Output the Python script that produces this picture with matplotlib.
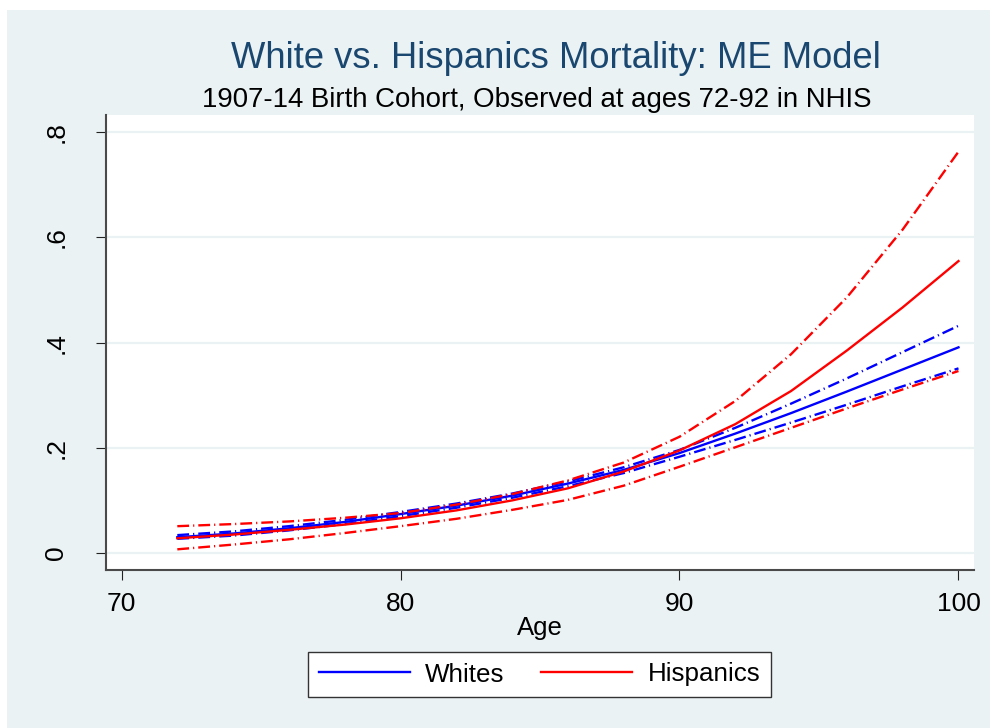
import matplotlib
matplotlib.use("Agg")
import matplotlib.pyplot as plt
from matplotlib.lines import Line2D
from matplotlib.patches import Rectangle

plt.rcParams['font.family'] = ['Liberation Sans', 'DejaVu Sans']

# Predicted mortality by age, with confidence bounds
ages = [72, 74, 76, 78, 80, 82, 84, 86, 88, 90, 92, 94, 96, 98, 100]

whites = [0.030, 0.037, 0.047, 0.059, 0.074, 0.090, 0.109, 0.132, 0.158,
          0.190, 0.227, 0.266, 0.307, 0.349, 0.391]
whites_hi = [0.034, 0.041, 0.051, 0.063, 0.078, 0.094, 0.113, 0.136, 0.163,
             0.196, 0.238, 0.284, 0.332, 0.382, 0.432]
whites_lo = [0.027, 0.033, 0.043, 0.055, 0.070, 0.086, 0.105, 0.127, 0.152,
             0.183, 0.215, 0.248, 0.282, 0.317, 0.351]

hisp = [0.028, 0.035, 0.044, 0.054, 0.066, 0.081, 0.100, 0.123, 0.155,
        0.195, 0.245, 0.308, 0.385, 0.467, 0.555]
hisp_hi = [0.051, 0.055, 0.060, 0.067, 0.076, 0.092, 0.112, 0.138, 0.172,
           0.221, 0.289, 0.378, 0.486, 0.615, 0.763]
hisp_lo = [0.007, 0.016, 0.026, 0.038, 0.051, 0.065, 0.082, 0.101, 0.128,
           0.164, 0.201, 0.238, 0.275, 0.311, 0.346]

xticks = [70, 80, 90, 100]
yticks = [0, 0.2, 0.4, 0.6, 0.8]
yticklabels = ['0', '.2', '.4', '.6', '.8']

BG = '#EAF2F3'
NAVY = '#1A476F'
BLUE = '#0000FF'
RED = '#FF0000'

W, H = 990, 728
fig = plt.figure(figsize=(W / 100, H / 100), dpi=100, facecolor='white')
fig.patches.append(Rectangle((7 / W, 0), 1 - 7 / W, 1 - 10 / H,
                             transform=fig.transFigure, facecolor=BG,
                             edgecolor='none', zorder=-10))

ax = fig.add_axes([106 / W, 1 - 570 / H, (974 - 106) / W, (570 - 115) / H])
ax.set_zorder(2)
ax.set_facecolor('white')
ax.set_xlim(69.444, 100.556)
ax.set_ylim(-0.0323, 0.8327)

for v in yticks:
    ax.axhline(v, color=BG, lw=1.6, zorder=1)

dashdot = (0, (5, 1.7, 0.5, 1.7))
lw = 1.7
ax.plot(ages, whites, color=BLUE, lw=lw, zorder=3)
ax.plot(ages, whites_hi, color=BLUE, lw=lw, ls=dashdot, zorder=3)
ax.plot(ages, whites_lo, color=BLUE, lw=lw, ls=dashdot, zorder=3)
ax.plot(ages, hisp, color=RED, lw=lw, zorder=3)
ax.plot(ages, hisp_hi, color=RED, lw=lw, ls=dashdot, zorder=3)
ax.plot(ages, hisp_lo, color=RED, lw=lw, ls=dashdot, zorder=3)

for s in ['top', 'right']:
    ax.spines[s].set_visible(False)
for s in ['left', 'bottom']:
    ax.spines[s].set_color('#4a4a4a')
    ax.spines[s].set_linewidth(1.5)

ax.set_xticks(xticks)
ax.set_xticklabels([str(t) for t in xticks])
ax.set_yticks(yticks)
ax.set_yticklabels(yticklabels, rotation=90, va='center')
ax.tick_params(axis='both', direction='out', length=7, width=0.8,
               color='#222222', labelsize=19, labelcolor='black')
ax.tick_params(axis='x', pad=9)
ax.tick_params(axis='y', pad=20)

ax.set_xlabel('Age', fontsize=18.5, labelpad=0)

fig.text(556 / W, 1 - 68 / H, 'White vs. Hispanics Mortality: ME Model',
         ha='center', va='baseline', fontsize=26.2, color=NAVY)
fig.text(537 / W, 1 - 107 / H,
         '1907-14 Birth Cohort, Observed at ages 72-92 in NHIS',
         ha='center', va='baseline', fontsize=19.9, color='black')

handles = [Line2D([], [], color=BLUE, lw=1.7),
           Line2D([], [], color=RED, lw=1.7)]
leg = fig.legend(handles, ['Whites', 'Hispanics'], loc='center',
                 bbox_to_anchor=(539.5 / W, 1 - 674.5 / H), ncol=2,
                 fontsize=18.7, frameon=True, fancybox=False,
                 handlelength=3.5, handletextpad=0.6, columnspacing=1.4,
                 borderpad=0.4, borderaxespad=0)
leg.get_frame().set_edgecolor('#333333')
leg.get_frame().set_linewidth(1.0)
leg.get_frame().set_facecolor('white')
leg.get_frame().set_alpha(1)

fig.savefig('out.png', dpi=100, facecolor='white')
